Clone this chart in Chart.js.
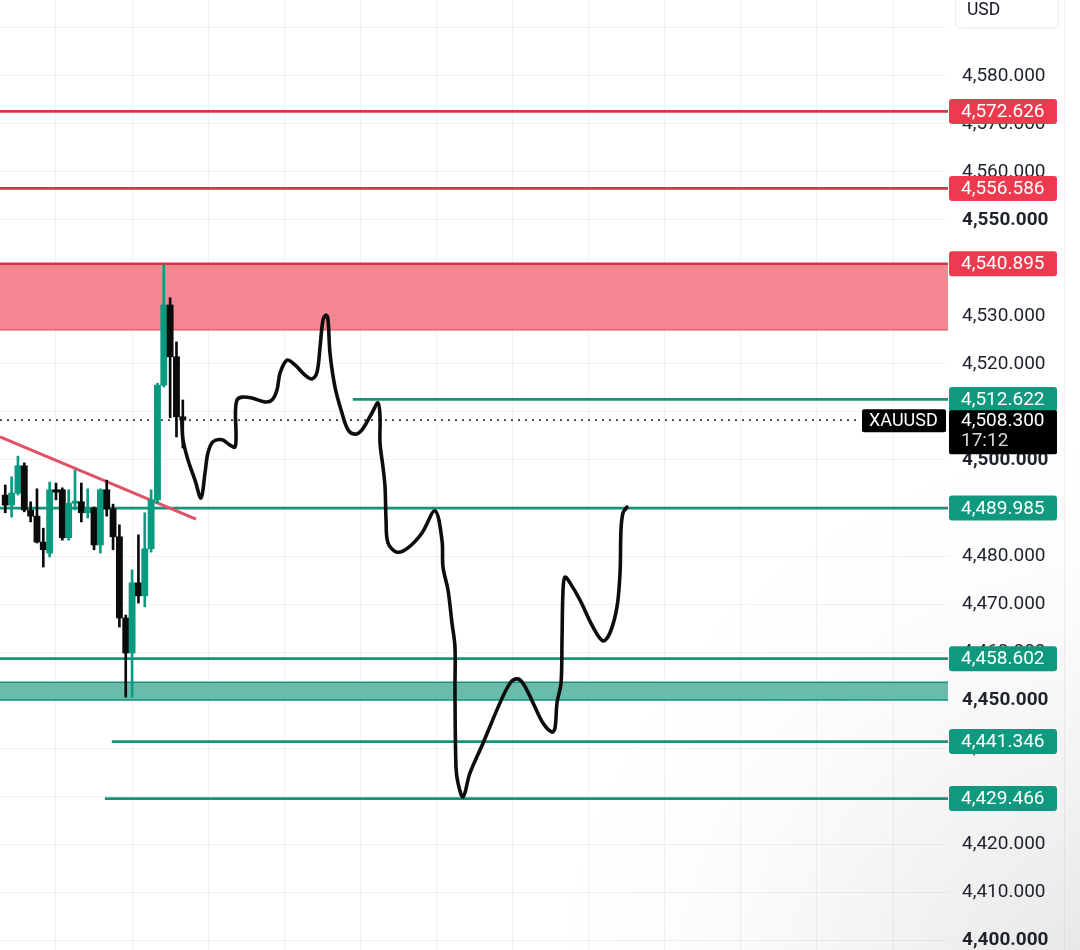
<!DOCTYPE html>
<html>
<head>
<meta charset="utf-8">
<script src="https://cdn.jsdelivr.net/npm/chart.js@4.4.1/dist/chart.umd.min.js"></script>
<style>
  html, body { margin: 0; padding: 0; background: #ffffff; }
  #wrap { width: 1080px; height: 950px; position: relative; }
</style>
</head>
<body>
<div id="wrap"><canvas id="c" width="1080" height="950"></canvas></div>
<script>
// ---------- DATA ----------
// candle index 0..28 (bar number on the x axis)
const candleOpen  = [4492.7,4490.6,4493.1,4498.8,4489.6,4488.3,4482.9,4480.6,4493.8,4493.8,4483.8,4491.0,4491.3,4489.0,4490.0,4482.3,4493.8,4489.8,4484.0,4467.1,4459.8,4474.4,4471.7,4481.5,4491.7,4515.6,4532.3,4521.5,4509.0];
const candleHigh  = [4494.8,4496.5,4500.8,4499.4,4491.3,4494.0,4485.8,4495.4,4495.2,4494.2,4493.8,4497.9,4495.2,4494.0,4490.2,4494.0,4495.8,4490.8,4486.5,4467.7,4477.1,4484.4,4489.0,4493.8,4516.0,4540.6,4533.8,4524.6,4512.5];
const candleLow   = [4489.0,4488.1,4492.7,4489.2,4487.1,4482.7,4477.7,4479.8,4491.7,4483.3,4483.3,4489.6,4487.1,4487.9,4481.3,4480.6,4488.3,4481.3,4465.2,4450.6,4450.6,4470.2,4469.4,4480.8,4491.0,4515.2,4508.8,4504.8,4502.5];
const candleClose = [4490.6,4493.1,4498.8,4489.6,4488.3,4482.9,4481.3,4493.8,4493.3,4483.8,4491.0,4491.3,4489.0,4490.0,4482.3,4493.8,4489.8,4484.0,4467.1,4459.8,4474.4,4471.7,4481.5,4491.7,4515.6,4532.3,4521.5,4509.0,4508.3];

// hand-drawn projection path (x in bar units, y in USD)
const pathX = [27.82,28.03,28.82,29.92,30.87,31.50,31.97,32.76,34.18,35.44,36.23,36.39,36.30,36.55,37.33,38.91,40.96,42.06,42.85,43.33,44.43,45.69,47.27,48.37,49.16,49.64,50.11,50.58,50.90,51.21,52.00,53.10,54.05,55.15,56.26,57.83,58.78,59.10,59.10,59.57,59.89,60.05,60.36,61.78,63.51,65.72,67.77,68.87,69.03,69.82,70.45,70.92,70.92,71.08,71.40,72.19,73.29,75.34,78.02,79.60,80.70,81.65,83.23,84.80,86.22,86.70,87.01,87.64,87.80,87.96,88.27,89.06,90.64,92.69,94.27,95.37,96.47,96.95,97.10,97.42,98.05];
const pathY = [4508.7,4504.2,4500.0,4495.8,4492.1,4497.3,4501.5,4503.8,4504.2,4503.1,4502.7,4505.6,4509.8,4512.5,4513.1,4512.9,4512.1,4512.5,4514.6,4518.1,4520.8,4519.8,4517.7,4516.9,4518.3,4523.5,4529.2,4530.2,4529.2,4522.3,4515.2,4509.8,4506.3,4505.4,4506.3,4509.8,4511.9,4509.0,4503.5,4498.5,4494.4,4487.5,4482.7,4480.8,4481.7,4484.8,4489.4,4483.3,4477.7,4472.9,4466.0,4461.0,4452.1,4436.0,4432.7,4429.8,4434.8,4441.0,4449.4,4453.5,4454.4,4453.5,4449.4,4445.2,4443.3,4444.2,4449.4,4453.5,4462.5,4472.9,4475.6,4474.4,4470.8,4465.2,4462.3,4464.0,4469.4,4476.5,4485.4,4489.0,4490.2];

// price levels (value, and the bar where the drawn line starts; null = from chart's left edge)
const resistanceLevels = [4572.626, 4556.586, 4540.895];
const resistanceStart  = [null, null, null];
const supportLevels    = [4512.622, 4489.985, 4458.602, 4441.346, 4429.466];
const supportStart     = [54.8, null, null, 16.8, 15.7];

// zones [low, high]
const supplyZone = [4527.1, 4540.895];
const demandZone = [4450.0, 4453.7];

// descending trendline: two points [bar, price]
const trendX = [-0.83, 30.08];
const trendY = [4504.8, 4487.7];

// current price
const symbolName = 'XAUUSD';
const lastPrice = 4508.3;
const countdown = '17:12';
const lastPriceLineEnd = 134.8;
const currencyLabel = 'USD';

// axis ranges and ticks
const xMin = -0.83, xMax = 148.67;
const yMin = 4397.917, yMax = 4595.833;
const yTickValues = [4400,4410,4420,4430,4440,4450,4460,4470,4480,4490,4500,4510,4520,4530,4540,4550,4560,4570,4580,4590];
const yLabelledTop = 4580;
const xGridValues = [8, 20, 32, 44, 56, 68, 80, 92, 104, 116, 128, 140];

// ---------- STYLE ----------
const GREEN = '#0a9a80';
const BLACK = '#0b0b0b';
const RED_LINE = '#dc3147';
const RED_TAG = '#ee3a4e';
const TEAL_LINE = '#14937a';
const TEAL_TAG = '#0f9a7f';
const FONT = 'Roboto, "Liberation Sans", Arial, sans-serif';

const fmt = v => v.toLocaleString('en-US', {minimumFractionDigits: 3, maximumFractionDigits: 3});

const bodyColors = candleOpen.map((o, i) => candleClose[i] >= o ? GREEN : BLACK);

function hLine(value, start, color, width, order, extra) {
  return Object.assign({
    type: 'line',
    data: [{x: start == null ? xMin : start, y: value}, {x: xMax, y: value}],
    borderColor: color, borderWidth: width, pointRadius: 0, fill: false, order: order
  }, extra || {});
}

const datasets = [];
// hand drawn path (top)
datasets.push({
  type: 'line',
  data: pathX.map((x, i) => ({x: x, y: pathY[i]})),
  borderColor: '#0d0d0d', borderWidth: 3.6, pointRadius: 0, tension: 0.35,
  borderCapStyle: 'round', borderJoinStyle: 'round', fill: false, order: 0
});
// candle bodies
datasets.push({
  type: 'bar',
  data: candleOpen.map((o, i) => ({x: i, y: [o, candleClose[i]]})),
  backgroundColor: bodyColors, borderWidth: 0, barThickness: 6.2, grouped: false, minBarLength: 2, order: 1
});
// candle wicks
datasets.push({
  type: 'bar',
  data: candleLow.map((l, i) => ({x: i, y: [l, candleHigh[i]]})),
  backgroundColor: bodyColors, borderWidth: 0, barThickness: 2, grouped: false, order: 2
});
// trendline
datasets.push({
  type: 'line',
  data: trendX.map((x, i) => ({x: x, y: trendY[i]})),
  borderColor: '#df5266', borderWidth: 3, pointRadius: 0, fill: false, order: 3
});
// levels
resistanceLevels.forEach((v, i) => datasets.push(hLine(v, resistanceStart[i], RED_LINE, 2.6, 3)));
supportLevels.forEach((v, i) => datasets.push(hLine(v, supportStart[i], TEAL_LINE, 2.8, 3)));
// last price dotted line
datasets.push(hLine(lastPrice, null, '#3a3a3a', 1.6, 3, {
  data: [{x: xMin, y: lastPrice}, {x: lastPriceLineEnd, y: lastPrice}], borderDash: [2, 5]
}));
// zones
datasets.push(hLine(supplyZone[1], null, 'rgba(0,0,0,0)', 0, 5, {
  fill: {value: supplyZone[0]}, backgroundColor: 'rgba(241,108,122,0.82)'
}));
datasets.push(hLine(supplyZone[0], null, '#e05a6c', 1.2, 4));
datasets.push(hLine(demandZone[1], null, 'rgba(0,0,0,0)', 0, 5, {
  fill: {value: demandZone[0]}, backgroundColor: 'rgba(96,184,164,0.95)'
}));
datasets.push(hLine(demandZone[1], null, TEAL_LINE, 1.6, 4));
datasets.push(hLine(demandZone[0], null, TEAL_LINE, 1.6, 4));

function roundRect(ctx, x, y, w, h, r) {
  ctx.beginPath();
  ctx.moveTo(x + r, y);
  ctx.lineTo(x + w - r, y); ctx.quadraticCurveTo(x + w, y, x + w, y + r);
  ctx.lineTo(x + w, y + h - r); ctx.quadraticCurveTo(x + w, y + h, x + w - r, y + h);
  ctx.lineTo(x + r, y + h); ctx.quadraticCurveTo(x, y + h, x, y + h - r);
  ctx.lineTo(x, y + r); ctx.quadraticCurveTo(x, y, x + r, y);
  ctx.closePath();
}

const bgPlugin = {
  id: 'bg',
  beforeDraw(chart) {
    const ctx = chart.ctx;
    const W = chart.width, H = chart.height;
    ctx.save();
    ctx.fillStyle = '#ffffff';
    ctx.fillRect(0, 0, W, H);
    const g = ctx.createRadialGradient(W + 60, H + 80, 40, W + 60, H + 80, 620);
    g.addColorStop(0, 'rgba(200,200,200,0.5)');
    g.addColorStop(0.5, 'rgba(215,215,215,0.22)');
    g.addColorStop(1, 'rgba(255,255,255,0)');
    ctx.fillStyle = g;
    ctx.fillRect(0, 0, W, H);
    // axis panel right border
    ctx.strokeStyle = 'rgba(0,0,0,0.05)';
    ctx.lineWidth = 1;
    ctx.beginPath(); ctx.moveTo(1064.5, 0); ctx.lineTo(1064.5, H); ctx.stroke();
    ctx.restore();
  }
};

const tagPlugin = {
  id: 'tags',
  afterDraw(chart) {
    const ctx = chart.ctx;
    const ys = chart.scales.y;
    const left = chart.chartArea.right + 1;
    const w = 108, h = 25;
    ctx.save();
    const tag = (v, color) => {
      const yy = ys.getPixelForValue(v);
      ctx.fillStyle = color;
      roundRect(ctx, left, yy - h / 2, w, h, 3);
      ctx.fill();
      ctx.fillStyle = '#ffffff';
      ctx.font = '19px ' + FONT;
      ctx.textBaseline = 'middle';
      ctx.textAlign = 'left';
      ctx.fillText(fmt(v), left + 12, yy + 1);
    };
    resistanceLevels.forEach(v => tag(v, RED_TAG));
    supportLevels.forEach(v => tag(v, TEAL_TAG));
    // current price box
    const py = ys.getPixelForValue(lastPrice);
    ctx.fillStyle = '#000000';
    roundRect(ctx, left, py - 10, w, 44, 2);
    ctx.fill();
    ctx.fillStyle = '#ffffff';
    ctx.font = '19px ' + FONT;
    ctx.textBaseline = 'middle';
    ctx.fillText(fmt(lastPrice), left + 12, py + 1.5);
    ctx.fillStyle = '#d8d8d8';
    ctx.fillText(countdown, left + 12, py + 21.5);
    // symbol label
    ctx.fillStyle = '#000000';
    roundRect(ctx, 862, py - 11, 84, 23, 2);
    ctx.fill();
    ctx.fillStyle = '#ffffff';
    ctx.font = '18px ' + FONT;
    ctx.fillText(symbolName, 869, py + 1);
    // currency header
    ctx.strokeStyle = '#ececec';
    ctx.lineWidth = 1;
    roundRect(ctx, 955.5, -6, 103, 34, 6);
    ctx.stroke();
    ctx.fillStyle = '#131722';
    ctx.font = '17.5px ' + FONT;
    ctx.fillText(currencyLabel, 967, 11);
    ctx.restore();
  }
};

new Chart(document.getElementById('c'), {
  data: { datasets: datasets },
  options: {
    responsive: false,
    animation: false,
    layout: { padding: 0 },
    plugins: { legend: { display: false }, tooltip: { enabled: false } },
    scales: {
      x: {
        type: 'linear', min: xMin, max: xMax, offset: false,
        afterBuildTicks: s => { s.ticks = xGridValues.map(v => ({value: v})); },
        afterFit: s => { s.height = 0; s.paddingLeft = 0; s.paddingRight = 0; },
        ticks: { display: false },
        border: { display: false },
        grid: { color: 'rgba(30,40,60,0.06)', drawTicks: false, lineWidth: 1, offset: false }
      },
      y: {
        type: 'linear', position: 'right', min: yMin, max: yMax,
        afterBuildTicks: s => { s.ticks = yTickValues.map(v => ({value: v})); },
        afterFit: s => { s.width = 132; s.paddingTop = 0; s.paddingBottom = 0; },
        border: { display: false },
        grid: { color: 'rgba(30,40,60,0.055)', drawTicks: false, lineWidth: 1 },
        ticks: {
          autoSkip: false,
          padding: 14,
          crossAlign: 'near',
          color: '#1e222d',
          font: ctx => ({ family: FONT, size: 19, weight: (ctx.tick && ctx.tick.value % 50 === 0) ? 'bold' : 'normal' }),
          callback: v => v > yLabelledTop ? '' : fmt(v)
        }
      }
    }
  },
  plugins: [bgPlugin, tagPlugin]
});
</script>
</body>
</html>
